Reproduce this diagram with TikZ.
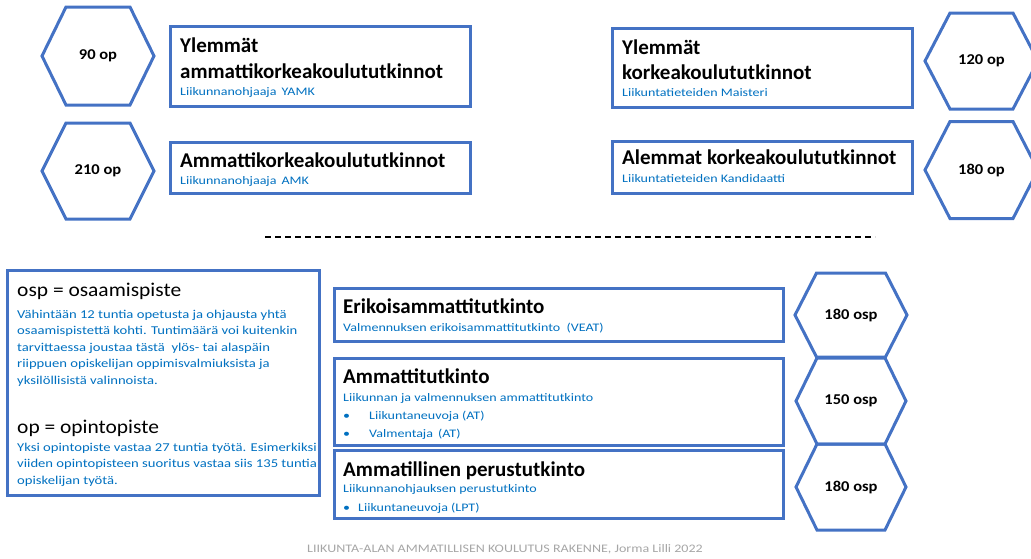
\documentclass[tikz,border=0pt]{standalone}
\usepackage{fontspec}
\setmainfont{Carlito}
\newfontfamily\sfont{Carlito}[FakeStretch=1.22]
\newfontfamily\hfont{Carlito}[FakeStretch=1.1]
\definecolor{frameblue}{HTML}{4472C4}
\definecolor{subblue}{HTML}{0070C0}
\definecolor{footgray}{HTML}{A6A6A6}
\tikzset{
  boxline/.style={draw=frameblue, line width=3pt, inner sep=0pt},
  hexline/.style={draw=frameblue, line width=3pt},
  hexlabel/.style={inner sep=0pt, font=\hfont\fontsize{15}{17}\selectfont\bfseries},
  title/.style={anchor=base west, inner sep=0pt, font=\fontsize{21}{24}\selectfont\bfseries},
  subt/.style={anchor=base west, inner sep=0pt, text=subblue, font=\sfont\fontsize{11.5}{13}\selectfont},
  legendhead/.style={anchor=base west, inner sep=0pt, font=\hfont\fontsize{19.5}{22}\selectfont},
  legendtext/.style={anchor=base west, inner sep=0pt, text=subblue, align=left, font=\sfont\fontsize{12}{16.5}\selectfont},
  footer/.style={inner sep=0pt, text=footgray, font=\sfont\fontsize{11.5}{13}\selectfont},
}
\newcommand\myhex[7]{%
  \node[hexlabel] (#1) at (#2,#3) {#7};
  \draw[hexline] (#2-#4,#3) -- (#2-#5,#3-#6) -- (#2+#5,#3-#6) -- (#2+#4,#3)
     -- (#2+#5,#3+#6) -- (#2-#5,#3+#6) -- cycle;}
\begin{document}
\begin{tikzpicture}[x=1pt,y=-1pt]
\useasboundingbox (0,0) rectangle (1031,558);
% ---- upper part: higher education
\node[boxline, minimum width=300, minimum height=80] (b1) at (320,66) {};
\node[boxline, minimum width=300, minimum height=51] (b2) at (320,167.5) {};
\node[boxline, minimum width=300, minimum height=79] (b3) at (762,67.5) {};
\node[boxline, minimum width=300, minimum height=52] (b4) at (762,167) {};

\node[title] (t1a) at (180,52) {Ylemmät};
\node[title] (t1b) at (180,78) {ammattikorkeakoulututkinnot};
\node[subt] (s1) at (180,95) {Liikunnanohjaaja\, YAMK};
\node[title] (t2) at (180,167) {Ammattikorkeakoulututkinnot};
\node[subt] (s2) at (180,184) {Liikunnanohjaaja\, AMK};

\node[title] (t3a) at (622,54) {Ylemmät};
\node[title] (t3b) at (622,79) {korkeakoulututkinnot};
\node[subt] (s3) at (622,96) {Liikuntatieteiden Maisteri};
\node[title] (t4) at (622,164) {Alemmat korkeakoulututkinnot};
\node[subt] (s4) at (622,182) {Liikuntatieteiden Kandidaatti};

\myhex{h1}{98}{56}{56}{32}{49}{90 op}
\myhex{h2}{98}{171}{56}{32}{48}{210 op}
\myhex{h3}{981.5}{61}{56.5}{31.5}{48}{120 op}
\myhex{h4}{981.5}{170}{56.5}{31.5}{48.5}{180 op}

% ---- dashed separator
\coordinate (d1) at (265,237);
\coordinate (d2) at (875,237);
\draw[line width=1.6pt, dash pattern=on 6pt off 4pt] (d1) -- (d2);

% ---- legend box
\node[boxline, minimum width=312, minimum height=225] (leg) at (163,382.5) {};
\node[legendhead] (l1) at (17,296) {osp = osaamispiste};
\node[legendtext] (l1t) at (17,384) {Vähintään 12 tuntia opetusta ja ohjausta yhtä\\
osaamispistettä kohti. Tuntimäärä voi kuitenkin\\
tarvittaessa joustaa tästä\ \ ylös- tai alaspäin\\
riippuen opiskelijan oppimisvalmiuksista ja\\
yksilöllisistä valinnoista.};
\node[legendhead] (l2) at (17,433) {op = opintopiste};
\node[legendtext] (l2t) at (17,484) {Yksi opintopiste vastaa 27 tuntia työtä. Esimerkiksi\\
viiden opintopisteen suoritus vastaa siis 135 tuntia\\
opiskelijan työtä.};

% ---- vocational qualifications
\node[boxline, minimum width=449, minimum height=53] (e) at (558.5,314.5) {};
\node[boxline, minimum width=449, minimum height=87] (a) at (558.5,401.5) {};
\node[boxline, minimum width=449, minimum height=68] (p) at (558.5,484) {};

\node[title] (et) at (343,313.5) {Erikoisammattitutkinto};
\node[subt] (es) at (343,331) {Valmennuksen erikoisammattitutkinto\ \ (VEAT)};

\node[title] (at) at (343,383.5) {Ammattitutkinto};
\node[subt] (as) at (343,401) {Liikunnan ja valmennuksen ammattitutkinto};
\node[subt] (ab1) at (343,419) {•};
\node[subt] (ai1) at (369,419) {Liikuntaneuvoja (AT)};
\node[subt] (ab2) at (343,437) {•};
\node[subt] (ai2) at (369,437) {Valmentaja\, (AT)};

\node[title] (pt) at (343,476.5) {Ammatillinen perustutkinto};
\node[subt] (ps) at (343,492) {Liikunnanohjauksen perustutkinto};
\node[subt] (pb1) at (343,511) {•};
\node[subt] (pi1) at (358,511) {Liikuntaneuvoja (LPT)};

\myhex{h5}{851}{315}{56}{34.5}{42}{180 osp}
\myhex{h6}{851}{401}{55}{34}{43}{150 osp}
\myhex{h7}{851}{487}{55}{34}{43}{180 osp}

% ---- footer
\node[footer] (foot) at (505,549) {LIIKUNTA-ALAN AMMATILLISEN KOULUTUS RAKENNE, Jorma Lilli 2022};
\end{tikzpicture}
\end{document}
